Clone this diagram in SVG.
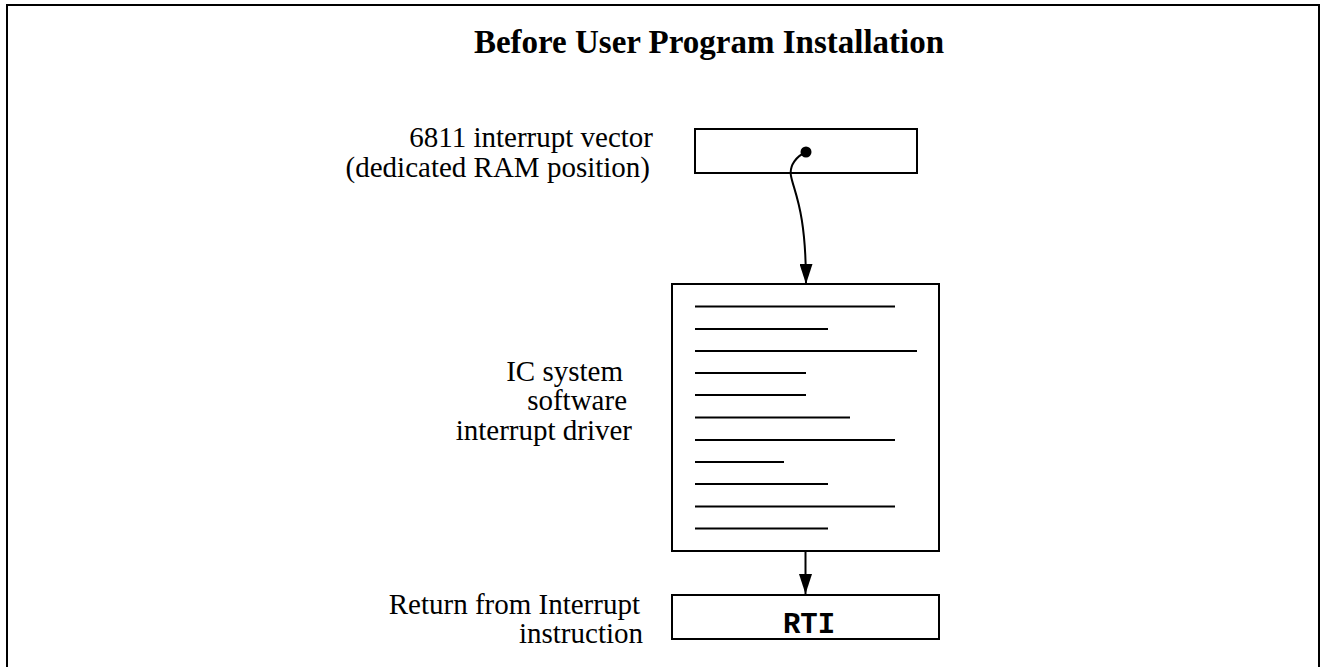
<svg xmlns="http://www.w3.org/2000/svg" width="1320" height="667" viewBox="0 0 1320 667">
<style>
.lbl{font-family:"Liberation Serif","Times New Roman",serif;font-size:29px;fill:#000;text-anchor:end}
.title{font-family:"Liberation Serif","Times New Roman",serif;font-size:33px;font-weight:bold;fill:#000;text-anchor:middle}
.mono{font-family:"Liberation Mono","Courier New",monospace;font-size:29px;font-weight:bold;fill:#000;text-anchor:middle}
.box{fill:#fff;stroke:#000;stroke-width:2}
.code{stroke:#000;stroke-width:2}
.conn{fill:none;stroke:#000;stroke-width:2}
</style>
<defs>
<marker id="arr" viewBox="0 0 20 13" refX="20" refY="6.5" markerWidth="20" markerHeight="13" markerUnits="userSpaceOnUse" orient="auto">
<path d="M0,0 L20,6.5 L0,13 Z" fill="#000"/>
</marker>
</defs>
<rect width="1320" height="667" fill="#fff"/>
<path d="M7,667 V5 H1319 V667" fill="none" stroke="#000" stroke-width="2"/>
<text class="title" x="709" y="53">Before User Program Installation</text>
<g id="vector">
<rect class="box" x="695" y="129" width="222" height="44"/>
<text class="lbl" x="653" y="147">6811 interrupt vector</text>
<text class="lbl" x="650" y="177">(dedicated RAM position)</text>
</g>
<g id="driver">
<rect class="box" x="672" y="284" width="267" height="267"/>
<line class="code" x1="695" y1="306.5" x2="895" y2="306.5"/>
<line class="code" x1="695" y1="329" x2="828" y2="329"/>
<line class="code" x1="695" y1="351" x2="917" y2="351"/>
<line class="code" x1="695" y1="373" x2="806" y2="373"/>
<line class="code" x1="695" y1="395" x2="806" y2="395"/>
<line class="code" x1="695" y1="417.5" x2="850" y2="417.5"/>
<line class="code" x1="695" y1="440" x2="895" y2="440"/>
<line class="code" x1="695" y1="462" x2="784" y2="462"/>
<line class="code" x1="695" y1="484" x2="828" y2="484"/>
<line class="code" x1="695" y1="506.5" x2="895" y2="506.5"/>
<line class="code" x1="695" y1="528.5" x2="828" y2="528.5"/>
<text class="lbl" x="623" y="381">IC system</text>
<text class="lbl" x="627" y="410">software</text>
<text class="lbl" x="632" y="440">interrupt driver</text>
</g>
<g id="rti">
<rect class="box" x="672" y="595" width="267" height="44"/>
<text class="mono" x="809" y="633">RTI</text>
<text class="lbl" x="640" y="614">Return from Interrupt</text>
<text class="lbl" x="643" y="643">instruction</text>
</g>
<g id="connectors">
<circle cx="806" cy="152" r="5.5" fill="#000"/>
<path class="conn" d="M806,152 C797,156 789,165 791,176 C794,192 806,210 806,284" marker-end="url(#arr)"/>
<path class="conn" d="M805.5,551 V594" marker-end="url(#arr)"/>
</g>
</svg>
